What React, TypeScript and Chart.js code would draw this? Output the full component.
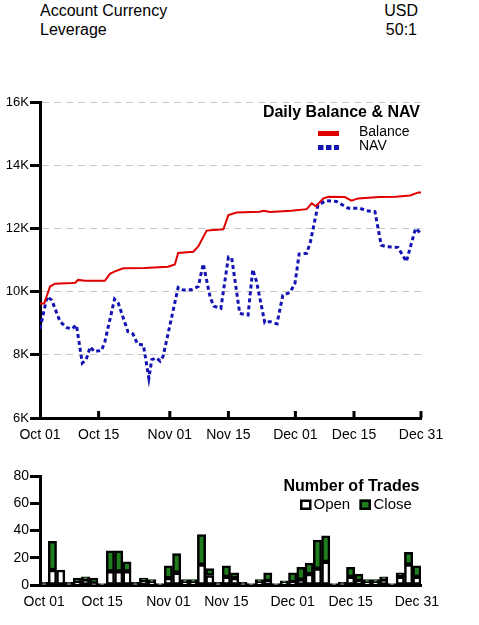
import React, { useEffect, useRef } from "react";
import { Chart, registerables } from "chart.js";

Chart.register(...registerables);

const FONT = '"Liberation Sans", Arial, Helvetica, sans-serif';

// Account summary rows
const accountLabels = ["Account Currency", "Leverage"];
const accountValues = ["USD", "50:1"];

// Daily balance, keyed by day offset from Oct 01
const balanceDays = [0, 1, 2.4, 3.6, 7.6, 8.4, 9.1, 10.7, 15.5, 16.7, 17.9, 19.9, 25, 30.6, 32.2, 33, 36.6, 37.8, 39.8, 43.8, 45, 47, 52.5, 53.3, 55, 60, 63.7, 64.9, 65.9, 67.7, 68.9, 72.8, 74.4, 76, 81, 85, 88.4, 90.4, 91];
const balanceValues = [9620, 9620, 10160, 10250, 10270, 10280, 10370, 10340, 10340, 10560, 10640, 10740, 10750, 10790, 10860, 11220, 11260, 11430, 11930, 11970, 12420, 12500, 12530, 12560, 12520, 12560, 12610, 12790, 12700, 12950, 13000, 12990, 12880, 12950, 12990, 13000, 13040, 13140, 13140];

// Daily net asset value, keyed by day offset from Oct 01
const navDays = [0, 1.7, 2.8, 4.8, 6.4, 7.6, 8.7, 10.1, 11, 12, 13, 14.7, 15.5, 17.8, 18.7, 21, 22.2, 23.3, 24.7, 26, 26.7, 27.8, 28.7, 29.4, 33, 34.2, 36.2, 37.8, 39, 40.6, 41.5, 43.2, 45, 45.8, 47.7, 49.7, 50.8, 51.7, 53.7, 54.9, 56.6, 58, 59.7, 60.9, 61.9, 63.7, 64.6, 66.4, 68.4, 70.8, 73.6, 76.4, 78, 80, 81.5, 82.7, 85.5, 87.5, 89.7, 91];
const navValues = [8820, 9840, 9730, 9050, 8860, 8820, 8940, 7740, 7840, 8250, 8100, 8140, 8420, 9760, 9630, 8730, 8660, 8340, 8310, 7260, 7850, 7900, 7800, 7950, 10130, 10050, 10060, 10160, 10880, 9840, 9540, 9470, 11090, 11060, 9310, 9260, 10700, 10330, 9010, 9050, 8980, 9890, 9970, 10260, 11190, 11210, 11580, 12740, 12880, 12850, 12640, 12640, 12560, 12530, 11470, 11420, 11400, 10950, 12000, 11840];

// Date axis ticks (day offsets) and their labels
const dayTicks = [0, 14, 31, 45, 61, 75, 91];
const dayTickLabels = ["Oct 01", "Oct 15", "Nov 01", "Nov 15", "Dec 01", "Dec 15", "Dec 31"];

// Two-day trading periods (start dates)
const tradePeriods = [
  "Oct 01", "Oct 03", "Oct 05", "Oct 07", "Oct 09", "Oct 11", "Oct 13", "Oct 15", "Oct 17", "Oct 19",
  "Oct 21", "Oct 23", "Oct 25", "Oct 27", "Oct 29", "Oct 31", "Nov 02", "Nov 04", "Nov 06", "Nov 08",
  "Nov 10", "Nov 12", "Nov 14", "Nov 16", "Nov 18", "Nov 20", "Nov 22", "Nov 24", "Nov 26", "Nov 28",
  "Nov 30", "Dec 02", "Dec 04", "Dec 06", "Dec 08", "Dec 10", "Dec 12", "Dec 14", "Dec 16", "Dec 18",
  "Dec 20", "Dec 22", "Dec 24", "Dec 26", "Dec 28", "Dec 30",
];
const openTrades = [1, 11, 11, 1, 2, 4, 1, 1, 10, 10, 10, 1, 3, 2, 1, 5, 9, 2, 2, 15, 7, 1, 6, 5, 1, 1, 2, 3, 1, 2, 2, 4, 8, 12, 17, 1, 1, 6, 3, 2, 2, 4, 1, 6, 15, 6];
const closeTrades = [1, 21, 0, 1, 3, 2, 4, 0, 15, 15, 7, 1, 2, 2, 0, 9, 14, 2, 2, 22, 5, 1, 8, 4, 1, 0, 2, 6, 0, 1, 7, 9, 8, 21, 19, 0, 1, 7, 5, 2, 2, 2, 0, 3, 9, 8];
// Period indices that carry a date label
const periodTickIndex = [0, 7, 15, 22, 30, 37, 45];

const BALANCE_RED = "#e00000";
const NAV_BLUE = "#1414b4";
const CLOSE_GREEN = "#1f7d1f";

const balanceLegend = {
  id: "balanceLegend",
  afterDraw(chart: any) {
    const { ctx, chartArea } = chart;
    const { top, right } = chartArea;
    const ds = chart.data.datasets;
    ctx.save();
    ctx.fillStyle = "#000";
    ctx.textBaseline = "middle";
    ctx.font = `bold 16px ${FONT}`;
    ctx.textAlign = "right";
    ctx.fillText("Daily Balance & NAV", right - 1, top + 11);

    ctx.lineWidth = 5;
    ctx.strokeStyle = ds[0].borderColor;
    ctx.beginPath();
    ctx.moveTo(right - 103, top + 31.5);
    ctx.lineTo(right - 82, top + 31.5);
    ctx.stroke();

    ctx.strokeStyle = ds[1].borderColor;
    ctx.setLineDash([5.5, 2.5]);
    ctx.beginPath();
    ctx.moveTo(right - 103, top + 45.5);
    ctx.lineTo(right - 82, top + 45.5);
    ctx.stroke();
    ctx.setLineDash([]);

    ctx.font = `14px ${FONT}`;
    ctx.textAlign = "left";
    ctx.fillText(ds[0].label, right - 62, top + 30.5);
    ctx.fillText(ds[1].label, right - 62, top + 44.5);
    ctx.restore();
  },
};

// Short upward ticks on the date axis
const innerDateTicks = {
  id: "innerDateTicks",
  afterDatasetsDraw(chart: any) {
    const { ctx, chartArea, scales } = chart;
    ctx.save();
    ctx.strokeStyle = "#000";
    ctx.lineWidth = 3;
    dayTicks.forEach((d) => {
      if (d === 0) return;
      const px = scales.x.getPixelForValue(d);
      ctx.beginPath();
      ctx.moveTo(px, chartArea.bottom);
      ctx.lineTo(px, chartArea.bottom - 7);
      ctx.stroke();
    });
    ctx.restore();
  },
};

const tradesLegend = {
  id: "tradesLegend",
  afterDraw(chart: any) {
    const { ctx, chartArea } = chart;
    const { top, right } = chartArea;
    const ds = chart.data.datasets;
    ctx.save();
    ctx.fillStyle = "#000";
    ctx.textBaseline = "middle";
    ctx.font = `bold 16px ${FONT}`;
    ctx.textAlign = "right";
    ctx.fillText("Number of Trades", right - 1.5, top + 11);

    const boxes = [
      { x: right - 121, textX: right - 107.5 },
      { x: right - 61.5, textX: right - 47.5 },
    ];
    ctx.lineWidth = 2.5;
    ctx.strokeStyle = "#000";
    ctx.font = `15px ${FONT}`;
    ctx.textAlign = "left";
    boxes.forEach((b, i) => {
      ctx.fillStyle = ds[i].backgroundColor;
      ctx.fillRect(b.x, top + 23.5, 11.5, 10.5);
      ctx.strokeRect(b.x + 1.25, top + 24.75, 9, 8);
      ctx.fillStyle = "#000";
      ctx.fillText(ds[i].label, b.textX, top + 28.5);
    });
    ctx.restore();
  },
};

function BalanceChart() {
  const ref = useRef<HTMLCanvasElement>(null);
  useEffect(() => {
    const chart = new Chart(ref.current as HTMLCanvasElement, {
      type: "line",
      data: {
        datasets: [
          {
            label: "Balance",
            data: balanceDays.map((d, i) => ({ x: d, y: balanceValues[i] })),
            borderColor: BALANCE_RED,
            backgroundColor: BALANCE_RED,
            borderWidth: 2,
            pointRadius: 0,
            tension: 0,
          },
          {
            label: "NAV",
            data: navDays.map((d, i) => ({ x: d, y: navValues[i] })),
            borderColor: NAV_BLUE,
            backgroundColor: NAV_BLUE,
            borderWidth: 3,
            borderDash: [4, 3],
            pointRadius: 0,
            tension: 0,
          },
        ],
      },
      options: {
        responsive: false,
        animation: false,
        layout: { padding: { top: 12, right: 58, left: 0, bottom: 0 } },
        plugins: { legend: { display: false }, tooltip: { enabled: false } },
        scales: {
          x: {
            type: "linear",
            min: 0,
            max: 91,
            afterBuildTicks: (s: any) => {
              s.ticks = dayTicks.map((v) => ({ value: v }));
            },
            afterFit: (s: any) => {
              s.height = 32;
            },
            grid: { display: false, drawTicks: false },
            border: { color: "#000", width: 3 },
            ticks: {
              autoSkip: false,
              maxRotation: 0,
              padding: 9,
              color: "#000",
              font: { family: FONT, size: 14 },
              callback: (v: any) => {
                const j = dayTicks.indexOf(Number(v));
                return j >= 0 ? dayTickLabels[j] : "";
              },
            },
          },
          y: {
            min: 6000,
            max: 16000,
            afterFit: (s: any) => {
              s.width = 40;
            },
            grid: { color: "#c8c8c8", lineWidth: 1, tickColor: "#000", tickWidth: 3, tickLength: 10 },
            border: { color: "#000", width: 3, dash: [7, 5] },
            ticks: {
              stepSize: 2000,
              padding: 1,
              color: "#000",
              font: { family: FONT, size: 13 },
              callback: (v: any) => `${Number(v) / 1000}K`,
            },
          },
        },
      },
      plugins: [innerDateTicks, balanceLegend],
    } as any);
    return () => chart.destroy();
  }, []);
  return (
    <canvas
      ref={ref}
      width={479}
      height={360}
      style={{ position: "absolute", left: 0, top: 90, width: 479, height: 360 }}
    />
  );
}

function TradesChart() {
  const ref = useRef<HTMLCanvasElement>(null);
  useEffect(() => {
    const chart = new Chart(ref.current as HTMLCanvasElement, {
      type: "bar",
      data: {
        labels: tradePeriods,
        datasets: [
          {
            label: "Open",
            data: openTrades,
            backgroundColor: "#ffffff",
            borderColor: "#000",
            borderWidth: 2.5,
            borderSkipped: false,
            barPercentage: 1,
            categoryPercentage: 1,
          },
          {
            label: "Close",
            data: closeTrades,
            backgroundColor: CLOSE_GREEN,
            borderColor: "#000",
            borderWidth: 2.5,
            borderSkipped: false,
            barPercentage: 1,
            categoryPercentage: 1,
          },
        ],
      },
      options: {
        responsive: false,
        animation: false,
        layout: { padding: { top: 11, right: 58, left: 0, bottom: 0 } },
        plugins: { legend: { display: false }, tooltip: { enabled: false } },
        scales: {
          x: {
            stacked: true,
            afterFit: (s: any) => {
              s.height = 40;
            },
            grid: { display: false, drawTicks: false },
            border: { color: "#000", width: 3 },
            ticks: {
              autoSkip: false,
              maxRotation: 0,
              padding: 9,
              color: "#000",
              font: { family: FONT, size: 14 },
              callback: (_v: any, i: number) => {
                const j = periodTickIndex.indexOf(i);
                return j >= 0 ? dayTickLabels[j] : "";
              },
            },
          },
          y: {
            stacked: true,
            min: 0,
            max: 80,
            afterFit: (s: any) => {
              s.width = 40;
            },
            grid: { drawOnChartArea: false, tickColor: "#000", tickWidth: 3, tickLength: 10 },
            border: { color: "#000", width: 3 },
            ticks: {
              stepSize: 20,
              padding: 1,
              color: "#000",
              font: { family: FONT, size: 14 },
            },
          },
        },
      },
      plugins: [tradesLegend],
    } as any);
    return () => chart.destroy();
  }, []);
  return (
    <canvas
      ref={ref}
      width={479}
      height={160}
      style={{ position: "absolute", left: 0, top: 465, width: 479, height: 160 }}
    />
  );
}

export default function App() {
  return (
    <div
      style={{
        position: "absolute",
        left: 0,
        top: 0,
        width: 479,
        height: 625,
        background: "#fff",
        color: "#000",
        fontFamily: FONT,
        overflow: "hidden",
      }}
    >
      {accountLabels.map((label, i) => (
        <React.Fragment key={label}>
          <div style={{ position: "absolute", left: 40, top: 2 + i * 19, fontSize: 16, lineHeight: "18px" }}>
            {label}
          </div>
          <div style={{ position: "absolute", right: 61 + i, top: 2 + i * 19, fontSize: 16, lineHeight: "18px" }}>
            {accountValues[i]}
          </div>
        </React.Fragment>
      ))}
      <BalanceChart />
      <TradesChart />
    </div>
  );
}
